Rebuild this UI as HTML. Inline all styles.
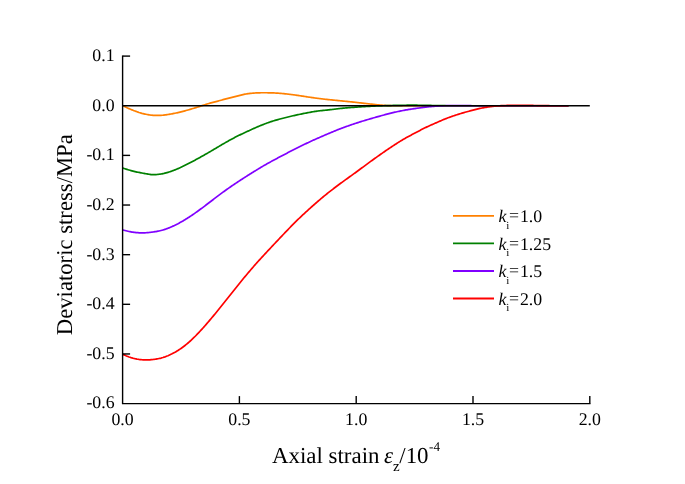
<!DOCTYPE html>
<html><head><meta charset="utf-8"><title>Deviatoric stress vs axial strain</title>
<style>html,body{margin:0;padding:0;background:#fff}svg{display:block}</style></head>
<body>
<svg width="685" height="484" viewBox="0 0 685 484" text-rendering="geometricPrecision">
<rect width="685" height="484" fill="#fff"/>
<path d="M122.7,105.70 L123.0,105.86 L124.0,106.35 L125.0,106.83 L126.0,107.30 L127.0,107.76 L128.0,108.20 L129.0,108.64 L130.0,109.06 L131.0,109.48 L132.0,109.88 L133.0,110.28 L134.0,110.67 L135.0,111.05 L136.0,111.42 L137.0,111.78 L138.0,112.12 L139.0,112.46 L140.0,112.77 L141.0,113.07 L142.0,113.36 L143.0,113.62 L144.0,113.86 L145.0,114.08 L146.0,114.28 L147.0,114.48 L148.0,114.66 L149.0,114.82 L150.0,114.97 L151.0,115.10 L152.0,115.22 L153.0,115.31 L154.0,115.39 L155.0,115.44 L156.0,115.47 L157.0,115.47 L158.0,115.45 L159.0,115.42 L160.0,115.37 L161.0,115.31 L162.0,115.23 L163.0,115.15 L164.0,115.04 L165.0,114.93 L166.0,114.81 L167.0,114.67 L168.0,114.52 L169.0,114.37 L170.0,114.20 L171.0,114.02 L172.0,113.84 L173.0,113.65 L174.0,113.45 L175.0,113.24 L176.0,113.03 L177.0,112.81 L178.0,112.58 L179.0,112.35 L180.0,112.11 L181.0,111.86 L182.0,111.61 L183.0,111.35 L184.0,111.09 L185.0,110.82 L186.0,110.54 L187.0,110.27 L188.0,109.98 L189.0,109.70 L190.0,109.41 L191.0,109.11 L192.0,108.81 L193.0,108.51 L194.0,108.21 L195.0,107.90 L196.0,107.59 L197.0,107.28 L198.0,106.97 L199.0,106.65 L200.0,106.33 L201.0,106.01 L202.0,105.68 L203.0,105.35 L204.0,105.02 L205.0,104.69 L206.0,104.37 L207.0,104.05 L208.0,103.75 L209.0,103.46 L210.0,103.17 L211.0,102.90 L212.0,102.63 L213.0,102.36 L214.0,102.10 L215.0,101.84 L216.0,101.58 L217.0,101.32 L218.0,101.06 L219.0,100.79 L220.0,100.53 L221.0,100.25 L222.0,99.97 L223.0,99.68 L224.0,99.40 L225.0,99.13 L226.0,98.85 L227.0,98.59 L228.0,98.32 L229.0,98.06 L230.0,97.81 L231.0,97.56 L232.0,97.31 L233.0,97.07 L234.0,96.83 L235.0,96.60 L236.0,96.36 L237.0,96.12 L238.0,95.87 L239.0,95.61 L240.0,95.36 L241.0,95.11 L242.0,94.87 L243.0,94.63 L244.0,94.41 L245.0,94.20 L246.0,94.01 L247.0,93.83 L248.0,93.68 L249.0,93.55 L250.0,93.44 L251.0,93.34 L252.0,93.25 L253.0,93.16 L254.0,93.08 L255.0,93.01 L256.0,92.95 L257.0,92.90 L258.0,92.85 L259.0,92.82 L260.0,92.79 L261.0,92.76 L262.0,92.75 L263.0,92.74 L264.0,92.74 L265.0,92.75 L266.0,92.76 L267.0,92.77 L268.0,92.78 L269.0,92.80 L270.0,92.81 L271.0,92.84 L272.0,92.86 L273.0,92.90 L274.0,92.94 L275.0,92.99 L276.0,93.05 L277.0,93.11 L278.0,93.18 L279.0,93.25 L280.0,93.33 L281.0,93.41 L282.0,93.50 L283.0,93.59 L284.0,93.69 L285.0,93.80 L286.0,93.91 L287.0,94.02 L288.0,94.13 L289.0,94.25 L290.0,94.37 L291.0,94.49 L292.0,94.62 L293.0,94.75 L294.0,94.88 L295.0,95.02 L296.0,95.16 L297.0,95.30 L298.0,95.45 L299.0,95.60 L300.0,95.75 L301.0,95.90 L302.0,96.06 L303.0,96.21 L304.0,96.37 L305.0,96.52 L306.0,96.68 L307.0,96.83 L308.0,96.98 L309.0,97.13 L310.0,97.28 L311.0,97.43 L312.0,97.57 L313.0,97.71 L314.0,97.85 L315.0,97.99 L316.0,98.13 L317.0,98.26 L318.0,98.39 L319.0,98.52 L320.0,98.64 L321.0,98.76 L322.0,98.88 L323.0,99.00 L324.0,99.12 L325.0,99.23 L326.0,99.34 L327.0,99.45 L328.0,99.56 L329.0,99.66 L330.0,99.77 L331.0,99.87 L332.0,99.97 L333.0,100.07 L334.0,100.17 L335.0,100.27 L336.0,100.37 L337.0,100.46 L338.0,100.56 L339.0,100.65 L340.0,100.75 L341.0,100.85 L342.0,100.94 L343.0,101.04 L344.0,101.14 L345.0,101.24 L346.0,101.34 L347.0,101.44 L348.0,101.54 L349.0,101.64 L350.0,101.74 L351.0,101.85 L352.0,101.95 L353.0,102.06 L354.0,102.17 L355.0,102.28 L356.0,102.39 L357.0,102.50 L358.0,102.61 L359.0,102.72 L360.0,102.84 L361.0,102.95 L362.0,103.07 L363.0,103.18 L364.0,103.30 L365.0,103.41 L366.0,103.53 L367.0,103.64 L368.0,103.76 L369.0,103.87 L370.0,103.99 L371.0,104.10 L372.0,104.21 L373.0,104.32 L374.0,104.43 L375.0,104.54 L376.0,104.64 L377.0,104.75 L378.0,104.85 L379.0,104.94 L380.0,105.03 L381.0,105.12 L382.0,105.21 L383.0,105.29 L384.0,105.36 L385.0,105.43 L386.0,105.49 L387.0,105.55 L388.0,105.60 L389.0,105.64 L390.0,105.68 L391.0,105.71 L392.0,105.73 L393.0,105.75 L394.0,105.76 L395.0,105.76 L396.0,105.77 L397.0,105.77 L398.0,105.77 L399.0,105.77 L400.0,105.77 L401.0,105.76 L402.0,105.76 L403.0,105.76 L404.0,105.76 L405.0,105.75 L406.0,105.75 L407.0,105.75 L408.0,105.75 L409.0,105.74 L410.0,105.74 L411.0,105.74 L412.0,105.74 L413.0,105.74 L414.0,105.74 L415.0,105.74 L416.0,105.74 L417.0,105.74 L418.0,105.74 L419.0,105.74 L420.0,105.74 L421.0,105.74 L422.0,105.74 L423.0,105.74 L424.0,105.74 L425.0,105.74 L426.0,105.74 L427.0,105.74 L428.0,105.74 L429.0,105.74 L430.0,105.74 L431.0,105.74 L432.0,105.74 L433.0,105.74 L434.0,105.74 L435.0,105.74 L436.0,105.74 L437.0,105.74 L438.0,105.74 L439.0,105.74 L440.0,105.74 L441.0,105.74 L442.0,105.74 L443.0,105.74 L444.0,105.74 L445.0,105.74 L446.0,105.74 L447.0,105.74 L448.0,105.74 L449.0,105.74 L450.0,105.74 L451.0,105.74 L452.0,105.74 L453.0,105.74 L454.0,105.74 L455.0,105.74 L456.0,105.74 L457.0,105.74 L458.0,105.74 L459.0,105.74 L460.0,105.74 L461.0,105.74 L462.0,105.74 L463.0,105.74 L464.0,105.74 L465.0,105.74 L466.0,105.74 L467.0,105.74 L468.0,105.74 L469.0,105.74 L470.0,105.74 L471.0,105.74 L472.0,105.74 L473.0,105.74 L474.0,105.74 L475.0,105.74 L476.0,105.74 L477.0,105.74 L478.0,105.74 L479.0,105.74 L480.0,105.74 L481.0,105.74 L482.0,105.74 L483.0,105.74 L484.0,105.74 L485.0,105.74 L486.0,105.74 L487.0,105.74 L488.0,105.74 L489.0,105.74 L490.0,105.74 L491.0,105.74 L492.0,105.74 L493.0,105.74 L494.0,105.74 L495.0,105.74 L496.0,105.74 L497.0,105.74 L498.0,105.74 L499.0,105.74 L500.0,105.74 L501.0,105.74 L502.0,105.74 L503.0,105.74 L504.0,105.74 L505.0,105.74 L506.0,105.74 L507.0,105.74 L508.0,105.74 L509.0,105.74 L510.0,105.74 L511.0,105.74 L512.0,105.74 L513.0,105.74 L514.0,105.74 L515.0,105.74 L516.0,105.74 L517.0,105.74 L518.0,105.74 L519.0,105.74 L520.0,105.74 L521.0,105.74 L522.0,105.74 L523.0,105.74 L524.0,105.74 L525.0,105.74 L526.0,105.74 L527.0,105.74 L528.0,105.74 L529.0,105.74 L530.0,105.74 L531.0,105.74 L532.0,105.74 L533.0,105.74 L534.0,105.74 L535.0,105.74 L536.0,105.74 L537.0,105.74 L538.0,105.74 L539.0,105.74 L540.0,105.74 L541.0,105.74 L542.0,105.74 L543.0,105.74 L544.0,105.74 L545.0,105.74 L546.0,105.74 L547.0,105.74 L548.0,105.74 L549.0,105.74 L550.0,105.74 L551.0,105.74 L552.0,105.74 L553.0,105.74 L554.0,105.74 L555.0,105.74 L556.0,105.74 L557.0,105.74 L558.0,105.74 L559.0,105.74 L560.0,105.74 L561.0,105.74 L562.0,105.74 L563.0,105.74 L564.0,105.74 L565.0,105.74 L566.0,105.74 L567.0,105.74 L568.0,105.74 L568.5,105.74" fill="none" stroke="#FF8000" stroke-width="1.7" stroke-linejoin="round"/>
<path d="M122.7,167.98 L123.0,168.08 L124.0,168.43 L125.0,168.76 L126.0,169.09 L127.0,169.40 L128.0,169.71 L129.0,170.00 L130.0,170.29 L131.0,170.57 L132.0,170.85 L133.0,171.12 L134.0,171.38 L135.0,171.62 L136.0,171.85 L137.0,172.06 L138.0,172.26 L139.0,172.45 L140.0,172.63 L141.0,172.81 L142.0,173.00 L143.0,173.21 L144.0,173.41 L145.0,173.60 L146.0,173.78 L147.0,173.94 L148.0,174.10 L149.0,174.27 L150.0,174.43 L151.0,174.57 L152.0,174.67 L153.0,174.72 L154.0,174.70 L155.0,174.64 L156.0,174.57 L157.0,174.48 L158.0,174.38 L159.0,174.26 L160.0,174.12 L161.0,173.97 L162.0,173.79 L163.0,173.59 L164.0,173.38 L165.0,173.14 L166.0,172.89 L167.0,172.63 L168.0,172.35 L169.0,172.05 L170.0,171.73 L171.0,171.39 L172.0,171.04 L173.0,170.67 L174.0,170.29 L175.0,169.89 L176.0,169.48 L177.0,169.06 L178.0,168.63 L179.0,168.19 L180.0,167.75 L181.0,167.29 L182.0,166.82 L183.0,166.35 L184.0,165.86 L185.0,165.36 L186.0,164.86 L187.0,164.35 L188.0,163.84 L189.0,163.32 L190.0,162.79 L191.0,162.26 L192.0,161.73 L193.0,161.20 L194.0,160.66 L195.0,160.13 L196.0,159.59 L197.0,159.04 L198.0,158.50 L199.0,157.95 L200.0,157.40 L201.0,156.84 L202.0,156.29 L203.0,155.73 L204.0,155.16 L205.0,154.59 L206.0,154.02 L207.0,153.45 L208.0,152.87 L209.0,152.29 L210.0,151.70 L211.0,151.11 L212.0,150.52 L213.0,149.93 L214.0,149.33 L215.0,148.74 L216.0,148.15 L217.0,147.55 L218.0,146.96 L219.0,146.37 L220.0,145.78 L221.0,145.19 L222.0,144.61 L223.0,144.02 L224.0,143.44 L225.0,142.87 L226.0,142.29 L227.0,141.72 L228.0,141.15 L229.0,140.59 L230.0,140.03 L231.0,139.48 L232.0,138.94 L233.0,138.40 L234.0,137.88 L235.0,137.36 L236.0,136.85 L237.0,136.35 L238.0,135.85 L239.0,135.36 L240.0,134.87 L241.0,134.39 L242.0,133.91 L243.0,133.44 L244.0,132.97 L245.0,132.51 L246.0,132.04 L247.0,131.58 L248.0,131.12 L249.0,130.66 L250.0,130.20 L251.0,129.75 L252.0,129.29 L253.0,128.84 L254.0,128.39 L255.0,127.95 L256.0,127.51 L257.0,127.08 L258.0,126.65 L259.0,126.22 L260.0,125.81 L261.0,125.39 L262.0,124.99 L263.0,124.59 L264.0,124.20 L265.0,123.81 L266.0,123.44 L267.0,123.07 L268.0,122.71 L269.0,122.36 L270.0,122.01 L271.0,121.68 L272.0,121.35 L273.0,121.03 L274.0,120.72 L275.0,120.42 L276.0,120.13 L277.0,119.84 L278.0,119.56 L279.0,119.28 L280.0,119.01 L281.0,118.74 L282.0,118.48 L283.0,118.22 L284.0,117.96 L285.0,117.71 L286.0,117.46 L287.0,117.21 L288.0,116.97 L289.0,116.73 L290.0,116.49 L291.0,116.25 L292.0,116.02 L293.0,115.79 L294.0,115.56 L295.0,115.34 L296.0,115.12 L297.0,114.90 L298.0,114.68 L299.0,114.47 L300.0,114.26 L301.0,114.05 L302.0,113.84 L303.0,113.64 L304.0,113.44 L305.0,113.24 L306.0,113.05 L307.0,112.86 L308.0,112.67 L309.0,112.48 L310.0,112.30 L311.0,112.12 L312.0,111.95 L313.0,111.78 L314.0,111.61 L315.0,111.45 L316.0,111.29 L317.0,111.14 L318.0,111.01 L319.0,110.88 L320.0,110.77 L321.0,110.65 L322.0,110.55 L323.0,110.44 L324.0,110.34 L325.0,110.24 L326.0,110.14 L327.0,110.04 L328.0,109.93 L329.0,109.83 L330.0,109.71 L331.0,109.60 L332.0,109.48 L333.0,109.36 L334.0,109.24 L335.0,109.12 L336.0,109.00 L337.0,108.88 L338.0,108.76 L339.0,108.65 L340.0,108.53 L341.0,108.42 L342.0,108.32 L343.0,108.21 L344.0,108.12 L345.0,108.02 L346.0,107.93 L347.0,107.84 L348.0,107.76 L349.0,107.67 L350.0,107.59 L351.0,107.51 L352.0,107.43 L353.0,107.35 L354.0,107.28 L355.0,107.21 L356.0,107.13 L357.0,107.07 L358.0,107.00 L359.0,106.93 L360.0,106.87 L361.0,106.81 L362.0,106.75 L363.0,106.69 L364.0,106.63 L365.0,106.57 L366.0,106.51 L367.0,106.45 L368.0,106.39 L369.0,106.34 L370.0,106.28 L371.0,106.23 L372.0,106.18 L373.0,106.13 L374.0,106.08 L375.0,106.04 L376.0,106.00 L377.0,105.96 L378.0,105.92 L379.0,105.88 L380.0,105.85 L381.0,105.82 L382.0,105.79 L383.0,105.76 L384.0,105.73 L385.0,105.70 L386.0,105.67 L387.0,105.64 L388.0,105.61 L389.0,105.58 L390.0,105.55 L391.0,105.53 L392.0,105.50 L393.0,105.47 L394.0,105.45 L395.0,105.42 L396.0,105.40 L397.0,105.38 L398.0,105.35 L399.0,105.33 L400.0,105.31 L401.0,105.30 L402.0,105.28 L403.0,105.26 L404.0,105.25 L405.0,105.24 L406.0,105.23 L407.0,105.22 L408.0,105.21 L409.0,105.20 L410.0,105.20 L411.0,105.20 L412.0,105.20 L413.0,105.20 L414.0,105.20 L415.0,105.21 L416.0,105.21 L417.0,105.22 L418.0,105.23 L419.0,105.24 L420.0,105.25 L421.0,105.26 L422.0,105.28 L423.0,105.30 L424.0,105.31 L425.0,105.33 L426.0,105.35 L427.0,105.37 L428.0,105.39 L429.0,105.41 L430.0,105.43 L431.0,105.46 L432.0,105.48 L433.0,105.50 L434.0,105.53 L435.0,105.55 L436.0,105.57 L437.0,105.59 L438.0,105.61 L439.0,105.63 L440.0,105.65 L441.0,105.67 L442.0,105.68 L443.0,105.70 L444.0,105.71 L445.0,105.72 L446.0,105.73 L447.0,105.74 L448.0,105.74 L449.0,105.75 L450.0,105.75 L451.0,105.75 L452.0,105.75 L453.0,105.75 L454.0,105.75 L455.0,105.75 L456.0,105.75 L457.0,105.75 L458.0,105.75 L459.0,105.75 L460.0,105.75 L461.0,105.75 L462.0,105.74 L463.0,105.74 L464.0,105.74 L465.0,105.74 L466.0,105.74 L467.0,105.74 L468.0,105.74 L469.0,105.74 L470.0,105.74 L471.0,105.74 L472.0,105.74 L473.0,105.74 L474.0,105.74 L475.0,105.74 L476.0,105.74 L477.0,105.74 L478.0,105.74 L479.0,105.74 L480.0,105.74 L481.0,105.74 L482.0,105.74 L483.0,105.74 L484.0,105.74 L485.0,105.74 L486.0,105.74 L487.0,105.74 L488.0,105.74 L489.0,105.74 L490.0,105.74 L491.0,105.74 L492.0,105.74 L493.0,105.74 L494.0,105.74 L495.0,105.74 L496.0,105.74 L497.0,105.74 L498.0,105.74 L499.0,105.74 L500.0,105.74 L501.0,105.74 L502.0,105.74 L503.0,105.74 L504.0,105.74 L505.0,105.74 L506.0,105.74 L507.0,105.74 L508.0,105.74 L509.0,105.74 L510.0,105.74 L511.0,105.74 L512.0,105.74 L513.0,105.74 L514.0,105.74 L515.0,105.74 L516.0,105.74 L517.0,105.74 L518.0,105.74 L519.0,105.74 L520.0,105.74 L521.0,105.74 L522.0,105.74 L523.0,105.74 L524.0,105.74 L525.0,105.74 L526.0,105.74 L527.0,105.74 L528.0,105.74 L529.0,105.74 L530.0,105.74 L531.0,105.74 L532.0,105.74 L533.0,105.74 L534.0,105.74 L535.0,105.74 L536.0,105.74 L537.0,105.74 L538.0,105.74 L539.0,105.74 L540.0,105.74 L541.0,105.74 L542.0,105.74 L543.0,105.74 L544.0,105.74 L545.0,105.74 L546.0,105.74 L547.0,105.74 L548.0,105.74 L549.0,105.74 L550.0,105.74 L551.0,105.74 L552.0,105.74 L553.0,105.74 L554.0,105.74 L555.0,105.74 L556.0,105.74 L557.0,105.74 L558.0,105.74 L559.0,105.74 L560.0,105.74 L561.0,105.74 L562.0,105.74 L563.0,105.74 L564.0,105.74 L565.0,105.74 L566.0,105.74 L567.0,105.74 L568.0,105.74 L568.5,105.74" fill="none" stroke="#008000" stroke-width="1.7" stroke-linejoin="round"/>
<path d="M122.7,229.87 L123.0,229.96 L124.0,230.26 L125.0,230.54 L126.0,230.80 L127.0,231.05 L128.0,231.28 L129.0,231.50 L130.0,231.70 L131.0,231.88 L132.0,232.05 L133.0,232.20 L134.0,232.34 L135.0,232.46 L136.0,232.56 L137.0,232.65 L138.0,232.72 L139.0,232.78 L140.0,232.82 L141.0,232.85 L142.0,232.86 L143.0,232.85 L144.0,232.83 L145.0,232.80 L146.0,232.74 L147.0,232.68 L148.0,232.60 L149.0,232.50 L150.0,232.38 L151.0,232.26 L152.0,232.13 L153.0,232.00 L154.0,231.86 L155.0,231.71 L156.0,231.54 L157.0,231.37 L158.0,231.18 L159.0,230.97 L160.0,230.75 L161.0,230.51 L162.0,230.25 L163.0,229.97 L164.0,229.67 L165.0,229.34 L166.0,228.99 L167.0,228.63 L168.0,228.25 L169.0,227.86 L170.0,227.45 L171.0,227.03 L172.0,226.60 L173.0,226.14 L174.0,225.68 L175.0,225.20 L176.0,224.71 L177.0,224.20 L178.0,223.69 L179.0,223.15 L180.0,222.61 L181.0,222.05 L182.0,221.48 L183.0,220.90 L184.0,220.31 L185.0,219.71 L186.0,219.09 L187.0,218.47 L188.0,217.83 L189.0,217.19 L190.0,216.53 L191.0,215.87 L192.0,215.20 L193.0,214.51 L194.0,213.83 L195.0,213.13 L196.0,212.42 L197.0,211.71 L198.0,210.99 L199.0,210.27 L200.0,209.54 L201.0,208.80 L202.0,208.06 L203.0,207.32 L204.0,206.57 L205.0,205.81 L206.0,205.05 L207.0,204.29 L208.0,203.53 L209.0,202.76 L210.0,202.00 L211.0,201.23 L212.0,200.46 L213.0,199.70 L214.0,198.94 L215.0,198.17 L216.0,197.42 L217.0,196.66 L218.0,195.91 L219.0,195.16 L220.0,194.41 L221.0,193.67 L222.0,192.93 L223.0,192.19 L224.0,191.46 L225.0,190.74 L226.0,190.02 L227.0,189.30 L228.0,188.59 L229.0,187.89 L230.0,187.19 L231.0,186.50 L232.0,185.81 L233.0,185.12 L234.0,184.44 L235.0,183.76 L236.0,183.09 L237.0,182.43 L238.0,181.76 L239.0,181.11 L240.0,180.45 L241.0,179.80 L242.0,179.16 L243.0,178.52 L244.0,177.88 L245.0,177.24 L246.0,176.61 L247.0,175.98 L248.0,175.34 L249.0,174.71 L250.0,174.08 L251.0,173.46 L252.0,172.83 L253.0,172.21 L254.0,171.59 L255.0,170.97 L256.0,170.35 L257.0,169.74 L258.0,169.13 L259.0,168.52 L260.0,167.92 L261.0,167.32 L262.0,166.73 L263.0,166.14 L264.0,165.56 L265.0,164.98 L266.0,164.41 L267.0,163.84 L268.0,163.28 L269.0,162.72 L270.0,162.17 L271.0,161.62 L272.0,161.08 L273.0,160.54 L274.0,160.00 L275.0,159.46 L276.0,158.93 L277.0,158.40 L278.0,157.87 L279.0,157.34 L280.0,156.82 L281.0,156.29 L282.0,155.76 L283.0,155.24 L284.0,154.71 L285.0,154.18 L286.0,153.66 L287.0,153.13 L288.0,152.61 L289.0,152.09 L290.0,151.58 L291.0,151.07 L292.0,150.56 L293.0,150.05 L294.0,149.55 L295.0,149.04 L296.0,148.54 L297.0,148.04 L298.0,147.54 L299.0,147.05 L300.0,146.55 L301.0,146.06 L302.0,145.57 L303.0,145.07 L304.0,144.58 L305.0,144.09 L306.0,143.61 L307.0,143.12 L308.0,142.65 L309.0,142.18 L310.0,141.71 L311.0,141.25 L312.0,140.79 L313.0,140.33 L314.0,139.88 L315.0,139.43 L316.0,138.99 L317.0,138.55 L318.0,138.11 L319.0,137.67 L320.0,137.23 L321.0,136.80 L322.0,136.36 L323.0,135.93 L324.0,135.50 L325.0,135.07 L326.0,134.64 L327.0,134.21 L328.0,133.78 L329.0,133.35 L330.0,132.93 L331.0,132.50 L332.0,132.09 L333.0,131.67 L334.0,131.26 L335.0,130.85 L336.0,130.44 L337.0,130.04 L338.0,129.65 L339.0,129.26 L340.0,128.87 L341.0,128.49 L342.0,128.11 L343.0,127.74 L344.0,127.38 L345.0,127.02 L346.0,126.66 L347.0,126.31 L348.0,125.96 L349.0,125.61 L350.0,125.26 L351.0,124.91 L352.0,124.57 L353.0,124.23 L354.0,123.89 L355.0,123.56 L356.0,123.22 L357.0,122.89 L358.0,122.57 L359.0,122.25 L360.0,121.93 L361.0,121.61 L362.0,121.30 L363.0,120.99 L364.0,120.69 L365.0,120.39 L366.0,120.09 L367.0,119.80 L368.0,119.50 L369.0,119.21 L370.0,118.92 L371.0,118.63 L372.0,118.34 L373.0,118.05 L374.0,117.76 L375.0,117.47 L376.0,117.19 L377.0,116.90 L378.0,116.62 L379.0,116.34 L380.0,116.06 L381.0,115.78 L382.0,115.50 L383.0,115.23 L384.0,114.96 L385.0,114.69 L386.0,114.43 L387.0,114.17 L388.0,113.91 L389.0,113.65 L390.0,113.40 L391.0,113.15 L392.0,112.91 L393.0,112.67 L394.0,112.43 L395.0,112.20 L396.0,111.98 L397.0,111.75 L398.0,111.54 L399.0,111.32 L400.0,111.11 L401.0,110.91 L402.0,110.71 L403.0,110.52 L404.0,110.33 L405.0,110.14 L406.0,109.96 L407.0,109.79 L408.0,109.62 L409.0,109.45 L410.0,109.29 L411.0,109.13 L412.0,108.98 L413.0,108.83 L414.0,108.69 L415.0,108.55 L416.0,108.41 L417.0,108.28 L418.0,108.14 L419.0,108.00 L420.0,107.86 L421.0,107.73 L422.0,107.59 L423.0,107.46 L424.0,107.33 L425.0,107.21 L426.0,107.09 L427.0,106.97 L428.0,106.85 L429.0,106.74 L430.0,106.64 L431.0,106.54 L432.0,106.45 L433.0,106.37 L434.0,106.29 L435.0,106.22 L436.0,106.16 L437.0,106.10 L438.0,106.04 L439.0,105.99 L440.0,105.94 L441.0,105.89 L442.0,105.84 L443.0,105.80 L444.0,105.77 L445.0,105.73 L446.0,105.70 L447.0,105.68 L448.0,105.66 L449.0,105.65 L450.0,105.64 L451.0,105.63 L452.0,105.63 L453.0,105.62 L454.0,105.62 L455.0,105.62 L456.0,105.62 L457.0,105.62 L458.0,105.62 L459.0,105.62 L460.0,105.63 L461.0,105.63 L462.0,105.64 L463.0,105.65 L464.0,105.65 L465.0,105.67 L466.0,105.68 L467.0,105.69 L468.0,105.70 L469.0,105.71 L470.0,105.72 L471.0,105.72 L472.0,105.73 L473.0,105.74 L474.0,105.74 L475.0,105.74 L476.0,105.74 L477.0,105.75 L478.0,105.75 L479.0,105.75 L480.0,105.75 L481.0,105.75 L482.0,105.75 L483.0,105.75 L484.0,105.75 L485.0,105.75 L486.0,105.75 L487.0,105.74 L488.0,105.74 L489.0,105.74 L490.0,105.74 L491.0,105.74 L492.0,105.74 L493.0,105.74 L494.0,105.74 L495.0,105.74 L496.0,105.74 L497.0,105.74 L498.0,105.74 L499.0,105.74 L500.0,105.74 L501.0,105.74 L502.0,105.74 L503.0,105.74 L504.0,105.74 L505.0,105.74 L506.0,105.74 L507.0,105.74 L508.0,105.74 L509.0,105.74 L510.0,105.74 L511.0,105.74 L512.0,105.74 L513.0,105.74 L514.0,105.74 L515.0,105.74 L516.0,105.74 L517.0,105.74 L518.0,105.74 L519.0,105.74 L520.0,105.74 L521.0,105.74 L522.0,105.74 L523.0,105.74 L524.0,105.74 L525.0,105.74 L526.0,105.74 L527.0,105.74 L528.0,105.74 L529.0,105.74 L530.0,105.74 L531.0,105.74 L532.0,105.74 L533.0,105.74 L534.0,105.74 L535.0,105.74 L536.0,105.74 L537.0,105.74 L538.0,105.74 L539.0,105.74 L540.0,105.74 L541.0,105.74 L542.0,105.74 L543.0,105.74 L544.0,105.74 L545.0,105.74 L546.0,105.74 L547.0,105.74 L548.0,105.74 L549.0,105.74 L550.0,105.74 L551.0,105.74 L552.0,105.74 L553.0,105.74 L554.0,105.74 L555.0,105.74 L556.0,105.74 L557.0,105.74 L558.0,105.74 L559.0,105.74 L560.0,105.74 L561.0,105.74 L562.0,105.74 L563.0,105.74 L564.0,105.74 L565.0,105.74 L566.0,105.74 L567.0,105.74 L568.0,105.74 L568.5,105.74" fill="none" stroke="#8000FF" stroke-width="1.7" stroke-linejoin="round"/>
<path d="M122.7,354.25 L123.0,354.40 L124.0,354.88 L125.0,355.34 L126.0,355.78 L127.0,356.19 L128.0,356.58 L129.0,356.95 L130.0,357.29 L131.0,357.62 L132.0,357.92 L133.0,358.20 L134.0,358.46 L135.0,358.70 L136.0,358.91 L137.0,359.11 L138.0,359.28 L139.0,359.44 L140.0,359.57 L141.0,359.68 L142.0,359.77 L143.0,359.85 L144.0,359.90 L145.0,359.93 L146.0,359.94 L147.0,359.93 L148.0,359.91 L149.0,359.86 L150.0,359.80 L151.0,359.72 L152.0,359.62 L153.0,359.52 L154.0,359.40 L155.0,359.26 L156.0,359.11 L157.0,358.94 L158.0,358.75 L159.0,358.54 L160.0,358.31 L161.0,358.07 L162.0,357.79 L163.0,357.50 L164.0,357.18 L165.0,356.84 L166.0,356.47 L167.0,356.08 L168.0,355.68 L169.0,355.25 L170.0,354.80 L171.0,354.33 L172.0,353.84 L173.0,353.32 L174.0,352.79 L175.0,352.24 L176.0,351.66 L177.0,351.06 L178.0,350.44 L179.0,349.79 L180.0,349.13 L181.0,348.44 L182.0,347.73 L183.0,347.00 L184.0,346.24 L185.0,345.46 L186.0,344.66 L187.0,343.84 L188.0,342.99 L189.0,342.12 L190.0,341.24 L191.0,340.33 L192.0,339.40 L193.0,338.45 L194.0,337.48 L195.0,336.49 L196.0,335.49 L197.0,334.46 L198.0,333.41 L199.0,332.35 L200.0,331.28 L201.0,330.19 L202.0,329.08 L203.0,327.97 L204.0,326.85 L205.0,325.71 L206.0,324.57 L207.0,323.42 L208.0,322.26 L209.0,321.09 L210.0,319.91 L211.0,318.73 L212.0,317.53 L213.0,316.34 L214.0,315.13 L215.0,313.92 L216.0,312.70 L217.0,311.48 L218.0,310.25 L219.0,309.01 L220.0,307.78 L221.0,306.53 L222.0,305.28 L223.0,304.03 L224.0,302.78 L225.0,301.52 L226.0,300.26 L227.0,299.00 L228.0,297.74 L229.0,296.48 L230.0,295.22 L231.0,293.96 L232.0,292.70 L233.0,291.44 L234.0,290.19 L235.0,288.94 L236.0,287.69 L237.0,286.44 L238.0,285.20 L239.0,283.96 L240.0,282.73 L241.0,281.49 L242.0,280.27 L243.0,279.05 L244.0,277.83 L245.0,276.63 L246.0,275.42 L247.0,274.23 L248.0,273.04 L249.0,271.86 L250.0,270.69 L251.0,269.52 L252.0,268.36 L253.0,267.21 L254.0,266.06 L255.0,264.92 L256.0,263.79 L257.0,262.67 L258.0,261.55 L259.0,260.44 L260.0,259.34 L261.0,258.24 L262.0,257.15 L263.0,256.07 L264.0,254.98 L265.0,253.91 L266.0,252.83 L267.0,251.76 L268.0,250.69 L269.0,249.62 L270.0,248.55 L271.0,247.48 L272.0,246.41 L273.0,245.35 L274.0,244.28 L275.0,243.22 L276.0,242.16 L277.0,241.09 L278.0,240.04 L279.0,238.98 L280.0,237.93 L281.0,236.87 L282.0,235.82 L283.0,234.77 L284.0,233.72 L285.0,232.67 L286.0,231.63 L287.0,230.59 L288.0,229.55 L289.0,228.52 L290.0,227.49 L291.0,226.46 L292.0,225.44 L293.0,224.43 L294.0,223.43 L295.0,222.43 L296.0,221.44 L297.0,220.45 L298.0,219.48 L299.0,218.51 L300.0,217.56 L301.0,216.61 L302.0,215.66 L303.0,214.72 L304.0,213.79 L305.0,212.86 L306.0,211.93 L307.0,211.01 L308.0,210.10 L309.0,209.19 L310.0,208.29 L311.0,207.40 L312.0,206.50 L313.0,205.62 L314.0,204.74 L315.0,203.86 L316.0,202.99 L317.0,202.12 L318.0,201.26 L319.0,200.40 L320.0,199.54 L321.0,198.69 L322.0,197.85 L323.0,197.01 L324.0,196.19 L325.0,195.37 L326.0,194.55 L327.0,193.75 L328.0,192.95 L329.0,192.16 L330.0,191.37 L331.0,190.59 L332.0,189.82 L333.0,189.05 L334.0,188.28 L335.0,187.52 L336.0,186.77 L337.0,186.02 L338.0,185.27 L339.0,184.53 L340.0,183.79 L341.0,183.05 L342.0,182.32 L343.0,181.60 L344.0,180.87 L345.0,180.15 L346.0,179.43 L347.0,178.71 L348.0,177.99 L349.0,177.28 L350.0,176.56 L351.0,175.84 L352.0,175.12 L353.0,174.40 L354.0,173.68 L355.0,172.96 L356.0,172.23 L357.0,171.50 L358.0,170.77 L359.0,170.03 L360.0,169.29 L361.0,168.55 L362.0,167.80 L363.0,167.06 L364.0,166.32 L365.0,165.58 L366.0,164.84 L367.0,164.11 L368.0,163.37 L369.0,162.64 L370.0,161.91 L371.0,161.18 L372.0,160.45 L373.0,159.73 L374.0,159.01 L375.0,158.29 L376.0,157.57 L377.0,156.86 L378.0,156.15 L379.0,155.44 L380.0,154.73 L381.0,154.03 L382.0,153.33 L383.0,152.63 L384.0,151.94 L385.0,151.25 L386.0,150.57 L387.0,149.89 L388.0,149.21 L389.0,148.54 L390.0,147.87 L391.0,147.20 L392.0,146.54 L393.0,145.88 L394.0,145.23 L395.0,144.58 L396.0,143.93 L397.0,143.29 L398.0,142.65 L399.0,142.02 L400.0,141.39 L401.0,140.77 L402.0,140.17 L403.0,139.57 L404.0,138.99 L405.0,138.42 L406.0,137.85 L407.0,137.30 L408.0,136.75 L409.0,136.20 L410.0,135.67 L411.0,135.13 L412.0,134.60 L413.0,134.08 L414.0,133.55 L415.0,133.02 L416.0,132.50 L417.0,131.97 L418.0,131.44 L419.0,130.91 L420.0,130.38 L421.0,129.85 L422.0,129.34 L423.0,128.83 L424.0,128.33 L425.0,127.84 L426.0,127.36 L427.0,126.89 L428.0,126.42 L429.0,125.96 L430.0,125.50 L431.0,125.06 L432.0,124.61 L433.0,124.17 L434.0,123.73 L435.0,123.29 L436.0,122.85 L437.0,122.42 L438.0,121.98 L439.0,121.54 L440.0,121.10 L441.0,120.66 L442.0,120.23 L443.0,119.81 L444.0,119.39 L445.0,118.99 L446.0,118.59 L447.0,118.20 L448.0,117.82 L449.0,117.45 L450.0,117.08 L451.0,116.73 L452.0,116.38 L453.0,116.04 L454.0,115.71 L455.0,115.38 L456.0,115.06 L457.0,114.74 L458.0,114.42 L459.0,114.10 L460.0,113.79 L461.0,113.48 L462.0,113.18 L463.0,112.88 L464.0,112.58 L465.0,112.29 L466.0,112.01 L467.0,111.73 L468.0,111.46 L469.0,111.20 L470.0,110.94 L471.0,110.68 L472.0,110.42 L473.0,110.16 L474.0,109.90 L475.0,109.64 L476.0,109.39 L477.0,109.14 L478.0,108.90 L479.0,108.66 L480.0,108.44 L481.0,108.22 L482.0,108.02 L483.0,107.83 L484.0,107.66 L485.0,107.49 L486.0,107.32 L487.0,107.17 L488.0,107.01 L489.0,106.87 L490.0,106.73 L491.0,106.60 L492.0,106.47 L493.0,106.36 L494.0,106.25 L495.0,106.15 L496.0,106.07 L497.0,105.99 L498.0,105.91 L499.0,105.85 L500.0,105.78 L501.0,105.72 L502.0,105.67 L503.0,105.62 L504.0,105.57 L505.0,105.53 L506.0,105.49 L507.0,105.46 L508.0,105.43 L509.0,105.41 L510.0,105.39 L511.0,105.38 L512.0,105.37 L513.0,105.36 L514.0,105.35 L515.0,105.35 L516.0,105.34 L517.0,105.34 L518.0,105.34 L519.0,105.34 L520.0,105.34 L521.0,105.35 L522.0,105.35 L523.0,105.36 L524.0,105.36 L525.0,105.37 L526.0,105.38 L527.0,105.39 L528.0,105.40 L529.0,105.41 L530.0,105.43 L531.0,105.44 L532.0,105.45 L533.0,105.47 L534.0,105.48 L535.0,105.50 L536.0,105.52 L537.0,105.53 L538.0,105.55 L539.0,105.57 L540.0,105.59 L541.0,105.60 L542.0,105.62 L543.0,105.64 L544.0,105.65 L545.0,105.67 L546.0,105.68 L547.0,105.70 L548.0,105.71 L549.0,105.72 L550.0,105.73 L551.0,105.73 L552.0,105.74 L553.0,105.74 L554.0,105.74 L555.0,105.75 L556.0,105.75 L557.0,105.75 L558.0,105.75 L559.0,105.75 L560.0,105.75 L561.0,105.75 L562.0,105.75 L563.0,105.75 L564.0,105.75 L565.0,105.75 L566.0,105.74 L567.0,105.74 L568.0,105.74 L568.5,105.74" fill="none" stroke="#FF0000" stroke-width="1.7" stroke-linejoin="round"/>
<line x1="122.6" y1="105.74" x2="589.8" y2="105.74" stroke="#000" stroke-width="1.6"/>
<g stroke="#000" stroke-width="1.4" fill="none" stroke-linecap="butt">
<path d="M122.6,55.4 V403.6 H590.5"/>
<line x1="122.6" y1="56.10" x2="130.1" y2="56.10"/>
<line x1="122.6" y1="155.39" x2="130.1" y2="155.39"/>
<line x1="122.6" y1="205.03" x2="130.1" y2="205.03"/>
<line x1="122.6" y1="254.67" x2="130.1" y2="254.67"/>
<line x1="122.6" y1="304.31" x2="130.1" y2="304.31"/>
<line x1="122.6" y1="353.96" x2="130.1" y2="353.96"/>
<line x1="239.40" y1="403.6" x2="239.40" y2="396.1"/>
<line x1="356.20" y1="403.6" x2="356.20" y2="396.1"/>
<line x1="473.00" y1="403.6" x2="473.00" y2="396.1"/>
<line x1="589.80" y1="403.6" x2="589.80" y2="396.1"/>
</g>
<g font-family="'Liberation Serif', 'Times New Roman', serif" font-size="17.8" fill="#000">
<text x="114.6" y="61.30" text-anchor="end">0.1</text>
<text x="114.6" y="110.87" text-anchor="end">0.0</text>
<text x="114.6" y="160.45" text-anchor="end">-0.1</text>
<text x="114.6" y="210.02" text-anchor="end">-0.2</text>
<text x="114.6" y="259.59" text-anchor="end">-0.3</text>
<text x="114.6" y="309.16" text-anchor="end">-0.4</text>
<text x="114.6" y="358.74" text-anchor="end">-0.5</text>
<text x="114.6" y="408.31" text-anchor="end">-0.6</text>
<text x="122.60" y="424.7" text-anchor="middle">0.0</text>
<text x="239.40" y="424.7" text-anchor="middle">0.5</text>
<text x="356.20" y="424.7" text-anchor="middle">1.0</text>
<text x="473.00" y="424.7" text-anchor="middle">1.5</text>
<text x="589.80" y="424.7" text-anchor="middle">2.0</text>
</g>
<g font-family="'Liberation Serif', 'Times New Roman', serif" font-size="22.9" fill="#000">
<text x="272" y="463">Axial strain <tspan font-style="italic" dx="-1.1">ε</tspan><tspan font-size="15" dy="7.6">z</tspan><tspan dy="-7.6" dx="-0.5">/10</tspan><tspan font-size="13.2" dy="-12" dx="0.5">-4</tspan></text>
<text font-size="22.7" transform="translate(72.2,335.2) rotate(-90)">Deviatoric stress/MPa</text>
</g>
<g font-family="'Liberation Serif', 'Times New Roman', serif" font-size="17.8" fill="#000">
<line x1="453" y1="215.90" x2="494" y2="215.90" stroke="#FF8000" stroke-width="1.9"/>
<text transform="translate(498.4,222.10) scale(1,1)"><tspan font-style="italic">k</tspan><tspan font-size="11" dy="6.6">i</tspan><tspan dy="-7.3" dx="-0.3">=</tspan><tspan dy="0.7" dx="0.8">1.0</tspan></text>
<line x1="453" y1="243.42" x2="494" y2="243.42" stroke="#008000" stroke-width="1.9"/>
<text transform="translate(498.4,249.62) scale(1,1)"><tspan font-style="italic">k</tspan><tspan font-size="11" dy="6.6">i</tspan><tspan dy="-7.3" dx="-0.3">=</tspan><tspan dy="0.7" dx="0.8">1.25</tspan></text>
<line x1="453" y1="270.94" x2="494" y2="270.94" stroke="#8000FF" stroke-width="1.9"/>
<text transform="translate(498.4,277.14) scale(1,1)"><tspan font-style="italic">k</tspan><tspan font-size="11" dy="6.6">i</tspan><tspan dy="-7.3" dx="-0.3">=</tspan><tspan dy="0.7" dx="0.8">1.5</tspan></text>
<line x1="453" y1="298.46" x2="494" y2="298.46" stroke="#FF0000" stroke-width="1.9"/>
<text transform="translate(498.4,304.66) scale(1,1)"><tspan font-style="italic">k</tspan><tspan font-size="11" dy="6.6">i</tspan><tspan dy="-7.3" dx="-0.3">=</tspan><tspan dy="0.7" dx="0.8">2.0</tspan></text>
</g>
</svg>
</body></html>
